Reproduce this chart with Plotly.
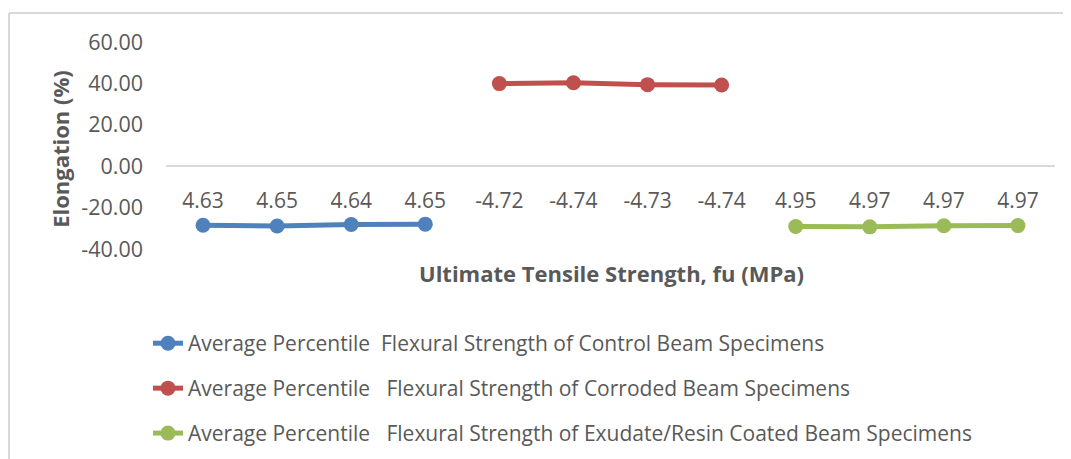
import plotly.graph_objects as go

# ---- data ----
tick_labels = ["4.63", "4.65", "4.64", "4.65",
               "-4.72", "-4.74", "-4.73", "-4.74",
               "4.95", "4.97", "4.97", "4.97"]
y_ticks = [-40, -20, 0, 20, 40, 60]
y_tick_labels = ["-40.00", "-20.00", "0.00", "20.00", "40.00", "60.00"]
control_vals = [-28.5, -28.9, -28.2, -28.0]
corroded_vals = [39.9, 40.3, 39.4, 39.2]
coated_vals = [-29.1, -29.3, -28.8, -28.7]

control_name = "Average Percentile\u00a0\u00a0Flexural Strength of Control Beam Specimens"
corroded_name = "Average Percentile\u00a0\u00a0\u00a0Flexural Strength of Corroded Beam Specimens"
coated_name = "Average Percentile\u00a0\u00a0\u00a0Flexural Strength of Exudate/Resin Coated Beam Specimens"

# ---- layout geometry (figure pixels; page body has an 8px margin) ----
OFF = 8
W, H = 1071 - OFF, 459 - OFF
L, R, T, B = 166 - OFF, 1055 - OFF, 42 - OFF, 249.3 - OFF
pw, ph = R - L, B - T

def px(x):
    return (x - OFF - L) / pw

def py(y):
    return (B - (y - OFF)) / ph

FONT = "Open Sans"
GRAY = "#595959"

fig = go.Figure()
series = [
    (control_vals, 0, "#4F81BD", control_name, "legend"),
    (corroded_vals, 4, "#C0504D", corroded_name, "legend2"),
    (coated_vals, 8, "#9BBB59", coated_name, "legend3"),
]
for vals, off, col, name, leg in series:
    fig.add_trace(go.Scatter(
        x=[off + i for i in range(len(vals))], y=vals, mode="lines+markers",
        name=name, legend=leg,
        line=dict(color=col, width=5),
        marker=dict(color=col, size=15),
    ))

legend_common = dict(xanchor="left", yanchor="middle", bgcolor="rgba(0,0,0,0)",
                     font=dict(family=FONT, size=21, color=GRAY), itemwidth=30)

fig.update_layout(
    width=W, height=H,
    margin=dict(l=L, r=W - R, t=T, b=H - B, autoexpand=False),
    paper_bgcolor="white", plot_bgcolor="white",
    font=dict(family=FONT, color=GRAY),
    xaxis=dict(
        range=[-0.5, len(tick_labels) - 0.5],
        tickmode="array", tickvals=list(range(len(tick_labels))), ticktext=tick_labels,
        anchor="free", position=0.4,
        showline=True, linecolor="#D9D9D9", linewidth=1.5,
        showgrid=False, zeroline=False, ticks="",
        ticklabelstandoff=16,
        tickfont=dict(family=FONT, size=21, color=GRAY),
    ),
    yaxis=dict(
        range=[-40, 60], tickmode="array", tickvals=y_ticks, ticktext=y_tick_labels,
        showgrid=False, zeroline=False, showline=False, ticks="",
        ticklabelstandoff=22,
        tickfont=dict(family=FONT, size=21.5, color=GRAY),
    ),
    legend=dict(x=px(148), y=py(344), **legend_common),
    legend2=dict(x=px(148), y=py(389), **legend_common),
    legend3=dict(x=px(148), y=py(434), **legend_common),
    showlegend=True,
)

fig.add_annotation(text="<b>Ultimate Tensile Strength, fu (MPa)</b>",
                   xref="paper", yref="paper", x=px(611), y=py(273),
                   showarrow=False, xanchor="center", yanchor="middle",
                   font=dict(family=FONT, size=22, color=GRAY))
fig.add_annotation(text="<b>Elongation (%)</b>", textangle=-90,
                   xref="paper", yref="paper", x=px(60), y=py(149),
                   showarrow=False, xanchor="center", yanchor="middle",
                   font=dict(family=FONT, size=22, color=GRAY))

# chart border (outer frame, light gray)
fig.add_shape(type="line", xref="paper", yref="paper",
              x0=px(9), x1=px(1071), y0=py(13), y1=py(13),
              line=dict(color="#D9D9D9", width=2))
fig.add_shape(type="line", xref="paper", yref="paper",
              x0=px(9), x1=px(9), y0=py(13), y1=py(470),
              line=dict(color="#D9D9D9", width=2))

fig.write_html("out.html")
